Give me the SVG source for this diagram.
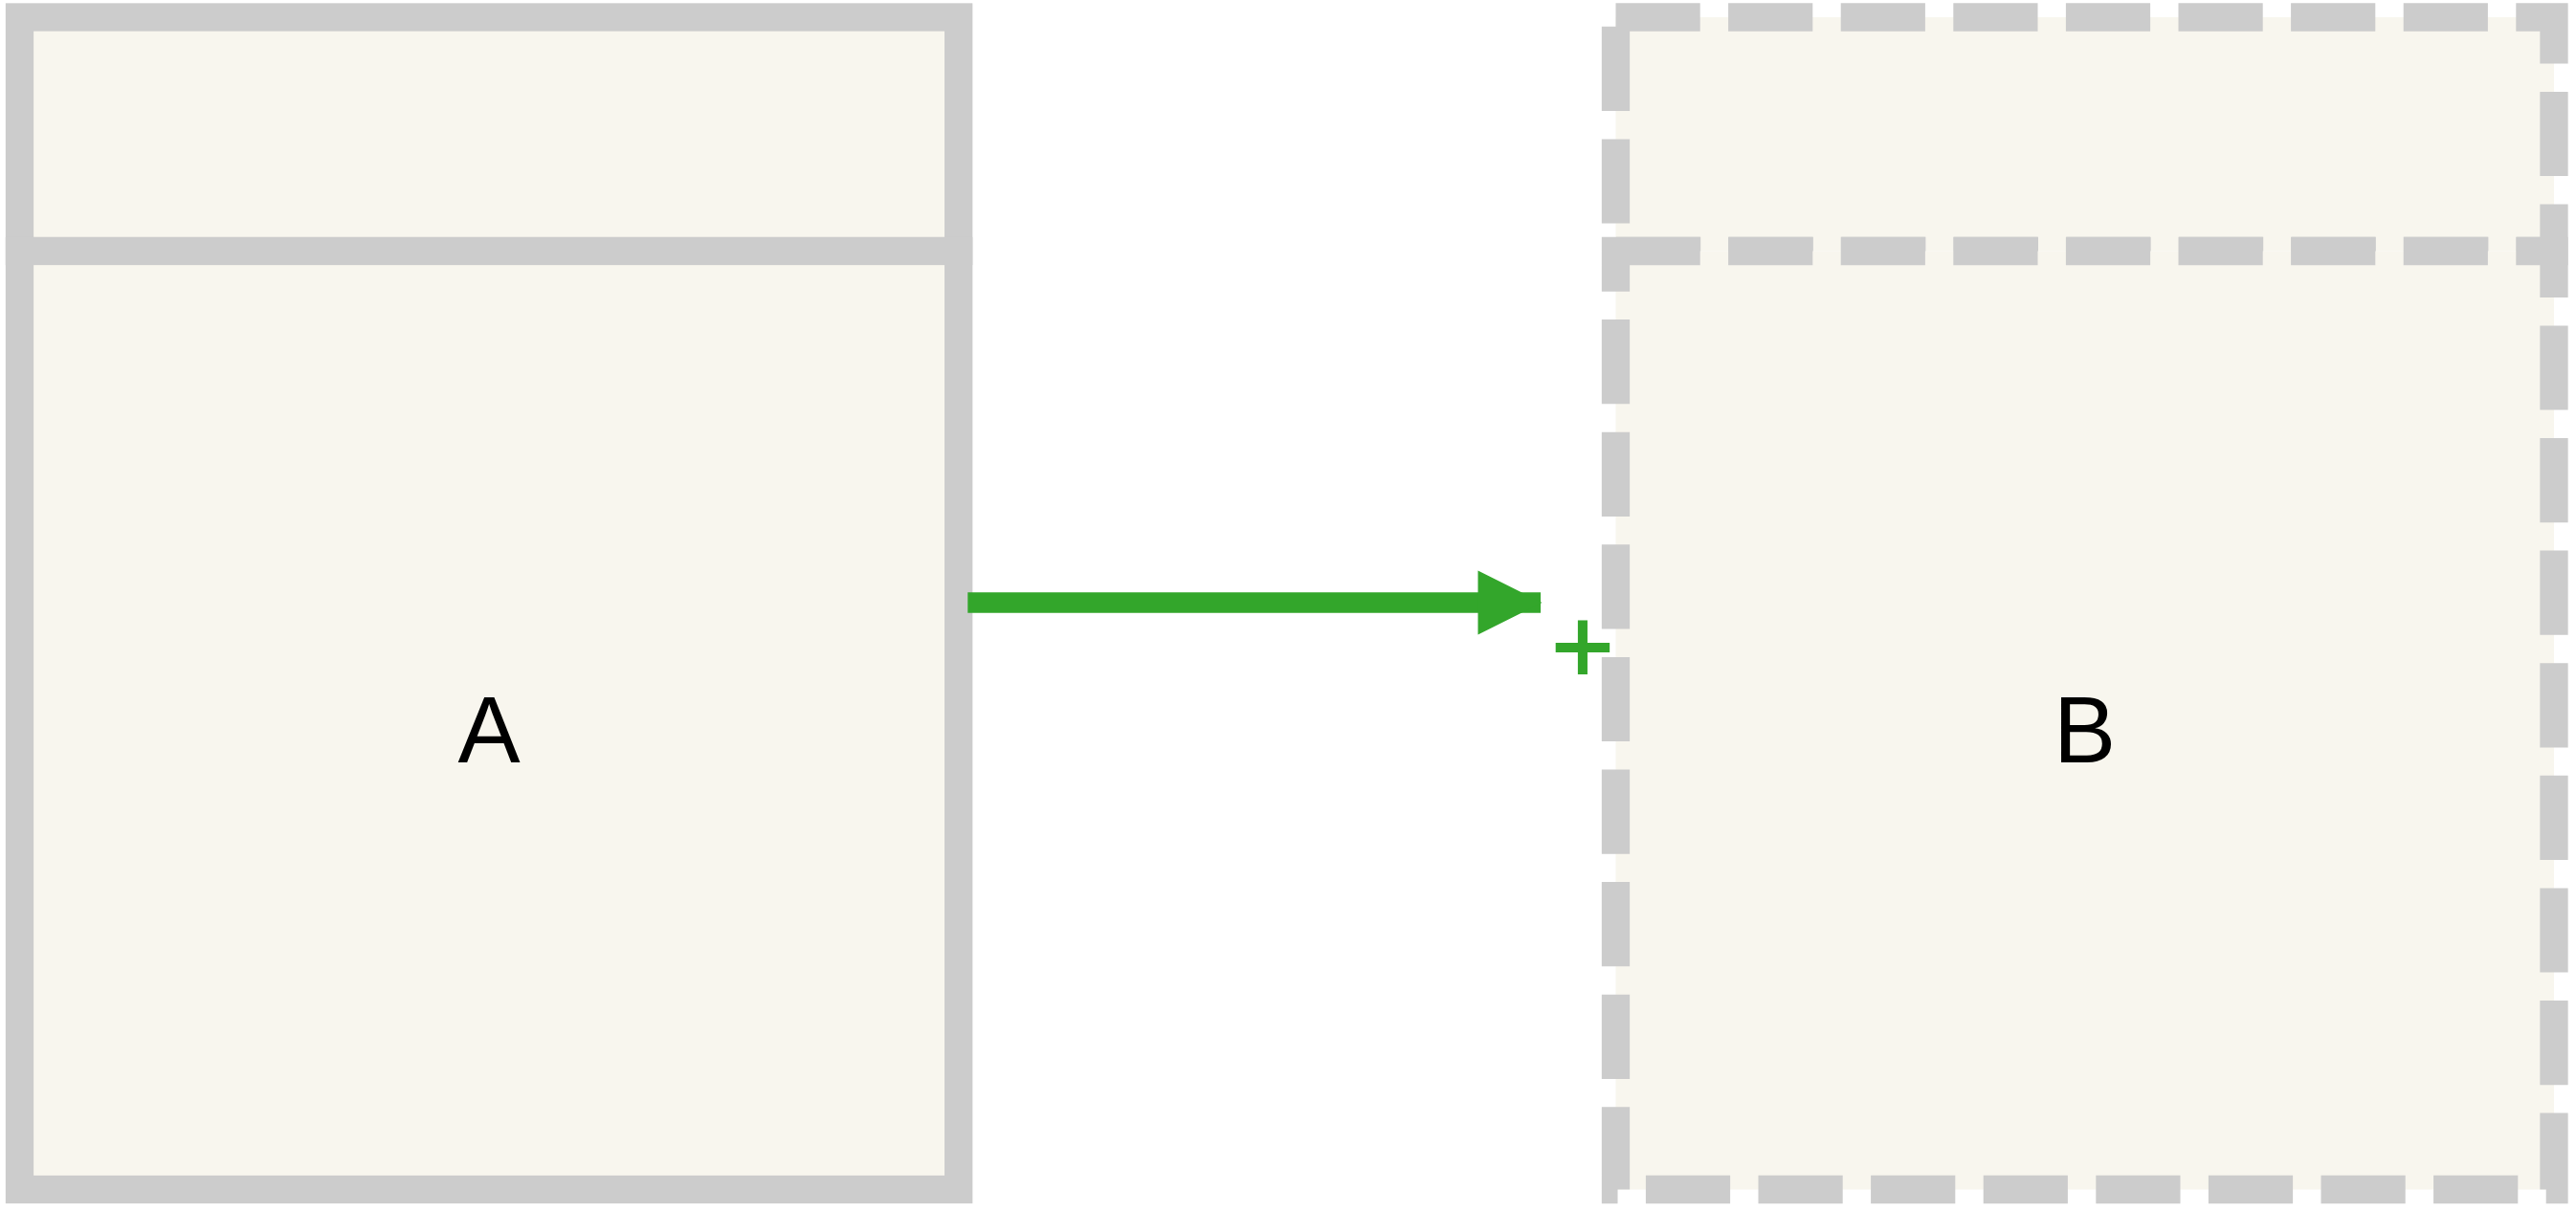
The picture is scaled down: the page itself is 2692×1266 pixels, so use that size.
<svg xmlns="http://www.w3.org/2000/svg" width="2692" height="1266" viewBox="0 0 2692 1266">
  <style>
    .box { fill: #F8F6EE; stroke: #CCCCCC; stroke-width: 29.3; }
    .dashed { stroke-dasharray: 88.2 29.4; }
    .label { font-family: "Liberation Sans", Arial, sans-serif; font-size: 97.7px; fill: #000000; text-anchor: middle; }
    .edge { fill: none; stroke: #33A62B; stroke-width: 21.4; }
    .edgelabel { font-family: "Liberation Sans", Arial, sans-serif; font-size: 112px; fill: #33A62B; stroke: #33A62B; stroke-width: 2; text-anchor: middle; }
  </style>
  <defs>
    <marker id="arrow" markerUnits="userSpaceOnUse" viewBox="0 0 67 67" markerWidth="67" markerHeight="67" refX="65.5" refY="33.5" orient="auto" overflow="visible">
      <path d="M0,0 L67,33.5 L0,67 Z" fill="#33A62B"/>
    </marker>
  </defs>
  <rect width="2692" height="1266" fill="#FFFFFF"/>
  <g id="node-A">
    <rect class="box" x="20.5" y="18" width="981.2" height="244.5"/>
    <rect class="box" x="20.5" y="262.5" width="981.2" height="981"/>
    <text class="label" x="511" y="796.7">A</text>
  </g>
  <g id="node-B">
    <rect class="box dashed" x="1688.5" y="18" width="980.5" height="244.5"/>
    <rect class="box dashed" x="1688.5" y="262.5" width="980.5" height="981"/>
    <text class="label" x="2178.5" y="796.7">B</text>
  </g>
  <g id="connectors">
    <path class="edge" d="M1011.3,630 L1610,630" marker-end="url(#arrow)"/>
    <text class="edgelabel" x="1654" y="713.6">+</text>
  </g>
</svg>
